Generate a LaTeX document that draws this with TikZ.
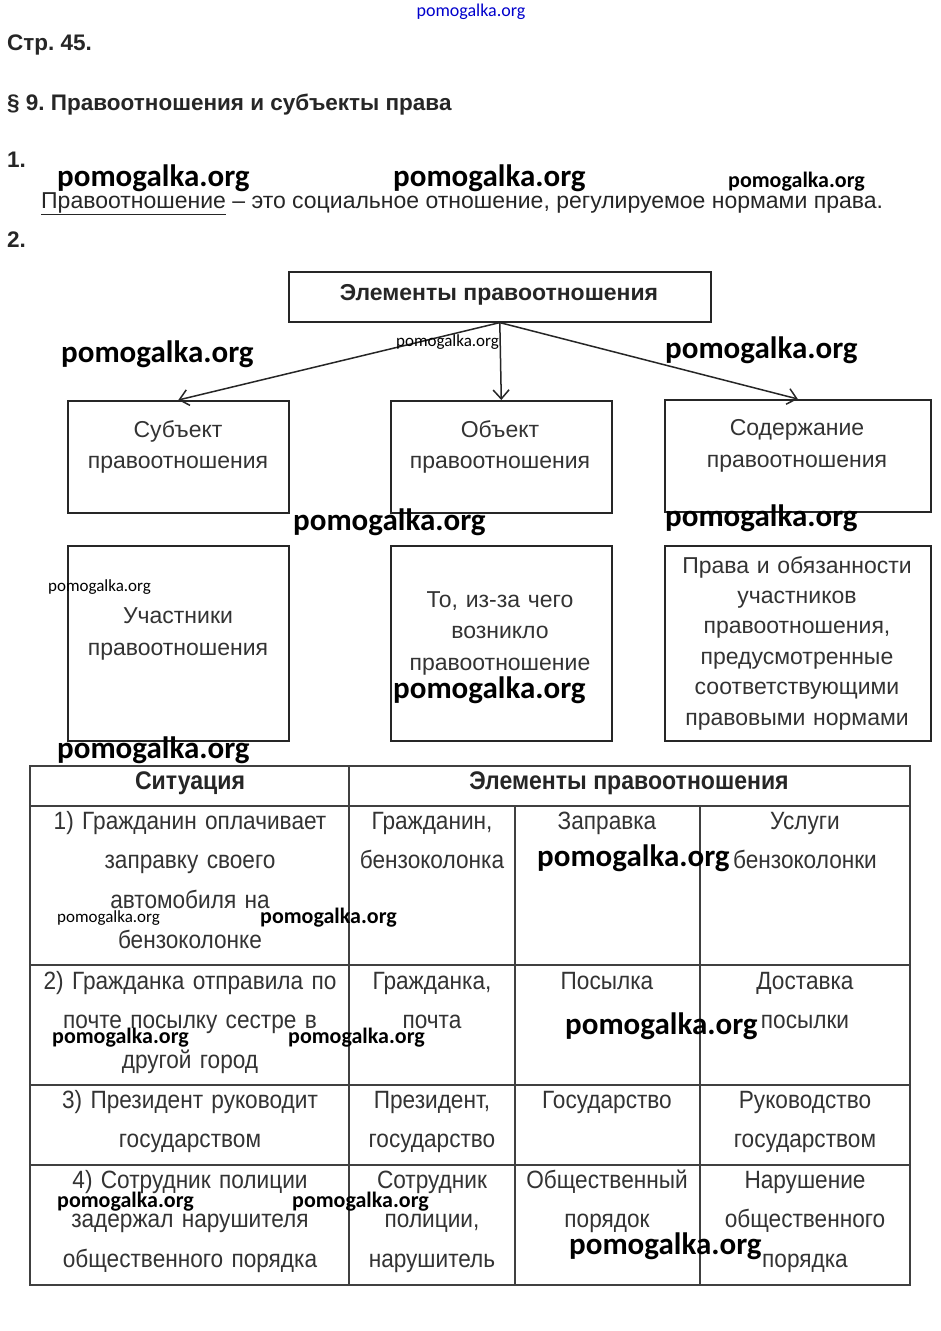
\documentclass[tikz,border=0pt]{standalone}
\usepackage{fontspec}
\setmainfont{Liberation Sans}
\newfontfamily\condf{Liberation Sans}[FakeStretch=0.905]
\newfontfamily\wmf{Carlito}
\usetikzlibrary{arrows.meta}
\frenchspacing
\begin{document}
\begin{tikzpicture}[x=1pt,y=-1pt,
  box/.style={draw=black!85, line width=1.6pt, inner sep=0, anchor=north west},
  arr/.style={line width=1.5pt, draw=black!85, -{Straight Barb[length=9pt,width=16pt,line width=1.5pt]}},
  dtext/.style={text=black!80, align=center, text width=260, anchor=base, inner sep=0},
  ttext/.style={font=\condf\fontsize{25}{39.7}\selectfont, text=black!80, align=center, text width=320, anchor=base, inner sep=0},
  thead/.style={font=\condf\bfseries\fontsize{25.5}{30}\selectfont, text=black!85, anchor=base, inner sep=0},
  head/.style={font=\bfseries\fontsize{22.5}{26}\selectfont, text=black!85, anchor=base west, inner sep=0},
  tline/.style={draw=black!75, line width=1.1pt},
  wmb/.style={font=\wmf\bfseries\fontsize{31}{31}\selectfont, anchor=west, inner sep=0},
  wmm/.style={font=\wmf\bfseries\fontsize{22}{22}\selectfont, anchor=west, inner sep=0},
  wms/.style={font=\wmf\fontsize{17}{17}\selectfont, anchor=west, inner sep=0}]
\useasboundingbox[fill=white] (0,0) rectangle (941,1331);

% headings
\node[head] (h1) at (7,50) {Стр. 45.};
\node[head] (h2) at (7,110) {§ 9. Правоотношения и субъекты права};
\node[head] (n1) at (7,167) {1.};
\node[font=\fontsize{23}{26}\selectfont, text=black!85, anchor=base west, inner sep=0] (def) at (41,208)
  {\underline{Правоотношение} – это социальное отношение, регулируемое нормами права.};
\node[head] (n2) at (7,247) {2.};

% diagram boxes
\node[box, minimum width=422, minimum height=50] (top) at (288,271) {};
\node[font=\bfseries\fontsize{23}{26}\selectfont, text=black!85, anchor=base, inner sep=0] (toptxt) at (499,300) {Элементы правоотношения};

\node[box, minimum width=221, minimum height=112] (sub) at (67,400) {};
\node[box, minimum width=221, minimum height=112] (obj) at (390,400) {};
\node[box, minimum width=266, minimum height=112] (cnt) at (664,399) {};

\node[box, minimum width=221, minimum height=195] (sub2) at (67,545) {};
\node[box, minimum width=221, minimum height=195] (obj2) at (390,545) {};
\node[box, minimum width=266, minimum height=195] (cnt2) at (664,545) {};

\node[dtext, font=\fontsize{23}{31}\selectfont] (subt) at (178,437) {Субъект\\правоотношения};
\node[dtext, font=\fontsize{23}{31}\selectfont] (objt) at (500,437) {Объект\\правоотношения};
\node[dtext, font=\fontsize{23}{32}\selectfont] (cntt) at (797,435) {Содержание\\правоотношения};

\node[dtext, font=\fontsize{23}{32}\selectfont] (sub2t) at (178,623) {Участники\\правоотношения};
\node[dtext, font=\fontsize{23}{31.5}\selectfont] (obj2t) at (500,607) {То, из-за чего\\возникло\\правоотношение};
\node[dtext, font=\fontsize{23}{30.4}\selectfont] (cnt2t) at (797,573) {Права и обязанности\\участников\\правоотношения,\\предусмотренные\\соответствующими\\правовыми нормами};

\draw[arr] (top.south) -- (sub.north);
\draw[arr] (top.south) -- (obj.north);
\draw[arr] (top.south) -- (cnt.north);

% table
\draw[tline] (30,766) rectangle (910,1285);
\draw[tline] (349,766) -- (349,1285);
\draw[tline] (515,806) -- (515,1285);
\draw[tline] (700,806) -- (700,1285);
\foreach \yy in {806,965,1085,1165} \draw[tline] (30,\yy) -- (910,\yy);

\node[thead] (th1) at (190,789) {Ситуация};
\node[thead] (th2) at (629,789) {Элементы правоотношения};

\node[ttext] (r1a) at (190,829) {1) Гражданин оплачивает\\заправку своего\\автомобиля на\\бензоколонке};
\node[ttext] (r1b) at (432,829) {Гражданин,\\бензоколонка};
\node[ttext] (r1c) at (607,829) {Заправка};
\node[ttext] (r1d) at (805,829) {Услуги\\бензоколонки};

\node[ttext] (r2a) at (190,989) {2) Гражданка отправила по\\почте посылку сестре в\\другой город};
\node[ttext] (r2b) at (432,989) {Гражданка,\\почта};
\node[ttext] (r2c) at (607,989) {Посылка};
\node[ttext] (r2d) at (805,989) {Доставка\\посылки};

\node[ttext] (r3a) at (190,1108) {3) Президент руководит\\государством};
\node[ttext] (r3b) at (432,1108) {Президент,\\государство};
\node[ttext] (r3c) at (607,1108) {Государство};
\node[ttext] (r3d) at (805,1108) {Руководство\\государством};

\node[ttext] (r4a) at (190,1188) {4) Сотрудник полиции\\задержал нарушителя\\общественного порядка};
\node[ttext] (r4b) at (432,1188) {Сотрудник\\полиции,\\нарушитель};
\node[ttext] (r4c) at (607,1188) {Общественный\\порядок};
\node[ttext] (r4d) at (805,1188) {Нарушение\\общественного\\порядка};

% watermarks
\node[font=\wmf\fontsize{18}{18}\selectfont, text=blue!80!black, anchor=center, inner sep=0] (w0) at (471,12) {pomogalka.org};
\node[wmb] (w1) at (57,178) {pomogalka.org};
\node[wmb] (w2) at (393,178) {pomogalka.org};
\node[wmm] (w3) at (728,182) {pomogalka.org};
\node[wmb] (w4) at (61,354) {pomogalka.org};
\node[wms] (w5) at (396,342) {pomogalka.org};
\node[wmb] (w6) at (665,350) {pomogalka.org};
\node[wmb] (w7) at (293,522) {pomogalka.org};
\node[wmb] (w8) at (665,518) {pomogalka.org};
\node[wms] (w9) at (48,587) {pomogalka.org};
\node[wmb] (w10) at (393,690) {pomogalka.org};
\node[wmb] (w11) at (57,750) {pomogalka.org};
\node[wmb] (w12) at (537,858) {pomogalka.org};
\node[wms] (w13) at (57,918) {pomogalka.org};
\node[wmm] (w14) at (260,918) {pomogalka.org};
\node[wmm] (w15) at (52,1038) {pomogalka.org};
\node[wmm] (w16) at (288,1038) {pomogalka.org};
\node[wmb] (w17) at (565,1026) {pomogalka.org};
\node[wmm] (w18) at (57,1202) {pomogalka.org};
\node[wmm] (w19) at (292,1202) {pomogalka.org};
\node[wmb] (w20) at (569,1246) {pomogalka.org};
\end{tikzpicture}
\end{document}
